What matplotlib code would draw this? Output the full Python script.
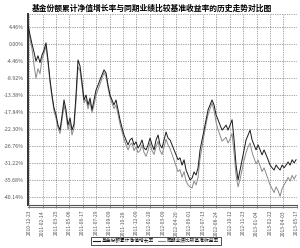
import matplotlib
matplotlib.use("Agg")
import matplotlib.pyplot as plt
from matplotlib.lines import Line2D

plt.rcParams['font.family'] = ['Noto Sans CJK SC', 'DejaVu Sans']

title = "基金份额累计净值增长率与同期业绩比较基准收益率的历史走势对比图"
fund_label = "基金份额累计净值增长率"
bench_label = "同期业绩比较基准收益率"

fund = [5.0, 2.4, 0.0, -2.1, -4.5, -3.1, -4.9, -2.9, -1.6, 0.3,
        -4.2, -9.4, -13.4, -16.8, -18.6, -21.3, -22.6, -18.9, -14.7, -17.3,
        -21.3, -19.4, -22.6, -21.0, -13.4, -4.2, -5.8, -10.0, -14.7, -13.4,
        -16.0, -14.2, -17.3, -14.7, -12.1, -10.8, -9.4, -8.1, -6.8, -7.6,
        -10.8, -13.4, -14.7, -16.0, -14.7, -17.3, -19.9, -22.0, -23.9, -25.2,
        -26.5, -25.2, -24.7, -26.5, -25.7, -27.3, -26.5, -25.2, -27.3, -27.8,
        -26.5, -24.7, -26.5, -27.8, -25.2, -23.9, -26.5, -27.3, -25.2, -23.1,
        -24.7, -25.2, -26.5, -27.8, -29.1, -30.4, -29.9, -31.8, -30.4, -33.1,
        -34.4, -35.7, -35.2, -33.6, -34.4, -32.5, -27.8, -25.2, -22.6, -19.9,
        -17.3, -16.0, -14.7, -16.0, -18.6, -19.9, -21.3, -22.6, -22.0, -21.3,
        -22.6, -21.3, -19.9, -25.2, -31.8, -35.7, -33.1, -30.4, -27.8, -25.2,
        -23.9, -22.6, -25.2, -26.5, -27.8, -26.5, -27.8, -29.1, -27.8, -29.1,
        -30.4, -31.8, -32.5, -33.1, -31.8, -32.5, -33.1, -31.8, -32.5, -31.8,
        -31.0, -31.8, -30.4, -31.2, -30.4]

bench = [4.6, 1.5, -1.2, -5.5, -9.0, -6.5, -7.8, -4.0, -2.5, -0.5,
         -5.0, -10.0, -14.0, -17.5, -19.5, -22.0, -23.5, -20.0, -16.0, -18.5,
         -22.5, -20.5, -23.9, -22.0, -15.0, -6.0, -7.0, -11.0, -15.5, -14.5,
         -17.0, -15.0, -18.0, -16.0, -13.5, -12.0, -10.5, -9.0, -7.5, -8.5,
         -11.5, -14.0, -15.5, -17.0, -16.0, -18.5, -21.0, -23.0, -25.0, -26.5,
         -27.8, -26.5, -26.0, -28.0, -27.0, -28.5, -28.0, -26.5, -28.5, -29.5,
         -28.0, -26.0, -28.0, -29.0, -27.0, -25.5, -28.0, -29.0, -27.0, -25.0,
         -26.5, -27.5, -29.0, -30.5, -32.0, -33.5, -33.0, -35.0, -33.5, -36.0,
         -37.0, -37.5, -37.8, -36.0, -37.0, -35.0, -30.0, -27.0, -24.0, -21.0,
         -18.5, -17.0, -15.5, -17.5, -20.5, -22.5, -24.0, -25.5, -25.0, -24.5,
         -26.0, -25.0, -23.5, -28.5, -34.5, -37.5, -35.5, -33.0, -30.5, -28.5,
         -27.0, -26.0, -28.5, -30.0, -31.5, -30.5, -32.0, -33.5, -32.5, -34.0,
         -35.5, -37.0, -38.0, -39.0, -37.5, -38.5, -40.0, -38.0, -37.0, -36.0,
         -35.0, -36.0, -34.5, -35.5, -34.5]

y_ticks = [4.46, 0.00, -4.46, -8.92, -13.38, -17.84, -22.30, -26.76, -31.22, -35.68, -40.14]
y_tick_labels = ["4.46%", "0.00%", "-4.46%", "-8.92%", "-13.38%", "-17.84%", "-22.30%",
                 "-26.76%", "-31.22%", "-35.68%", "-40.14%"]
x_tick_labels = ["2010-12-23", "2011-02-14", "2011-03-25", "2011-05-06", "2011-06-17",
                 "2011-07-29", "2011-09-09", "2011-10-28", "2011-12-09", "2012-01-20",
                 "2012-03-09", "2012-04-20", "2012-06-01", "2012-07-13", "2012-08-24",
                 "2012-10-12", "2012-11-23", "2013-01-04", "2013-02-22", "2013-04-03",
                 "2013-05-17"]

fig = plt.figure(figsize=(3.0, 2.48), dpi=100)
ax = fig.add_axes([0.0933, 0.173, 0.897, 0.771])

xs = list(range(len(fund)))
ax.plot(xs, bench, color="#8a8a8a", lw=0.7, label=bench_label, zorder=2)
ax.plot(xs, fund, color="#1a1a1a", lw=0.7, label=fund_label, zorder=3)

ax.set_xlim(0, len(fund) - 0.5)
ax.set_ylim(-42.3, 7.9)

n = len(x_tick_labels)
tick_pos = [0.65 + k * (len(fund) - 1.35) / (n - 1) for k in range(n)]
ax.set_xticks(tick_pos)
ax.set_xticklabels(x_tick_labels, rotation=90, fontsize=3.6, color="#555555")
ax.set_yticks(y_ticks)
ax.set_yticklabels(y_tick_labels, fontsize=3.8, color="#555555")
ax.tick_params(axis='both', length=2, width=0.5, pad=1.5, colors="#555555")
ax.tick_params(axis='y', length=0, pad=3)

ax.grid(True, linestyle=(0, (1, 1.5)), color="#555555", lw=0.5)
for s in ["top", "right"]:
    ax.spines[s].set_visible(False)
ax.spines["left"].set_linewidth(1.4)
ax.spines["left"].set_color("#333333")
ax.spines["bottom"].set_linewidth(0.8)
ax.spines["bottom"].set_color("#555555")
ax.axhline(7.9, color="#555555", lw=0.5, linestyle=(0, (1, 1.5)))

fig.add_artist(Line2D([0.0933, 0.99], [0.165, 0.165], transform=fig.transFigure,
                      color="#777777", lw=0.8))

fig.text(0.505, 0.965, title, ha="center", va="center", fontsize=5.6, fontweight="bold")

handles = [Line2D([], [], color="#1a1a1a", lw=0.8), Line2D([], [], color="#8a8a8a", lw=0.8)]
leg = fig.legend(handles, [fund_label, bench_label], loc="center", bbox_to_anchor=(0.52, 0.03),
                 ncol=2, fontsize=3.4, frameon=True, fancybox=False, handlelength=1.6,
                 handletextpad=0.3, columnspacing=0.8, borderpad=0.3, edgecolor="black")
leg.get_frame().set_linewidth(0.6)

fig.savefig("out.png", dpi=100)
